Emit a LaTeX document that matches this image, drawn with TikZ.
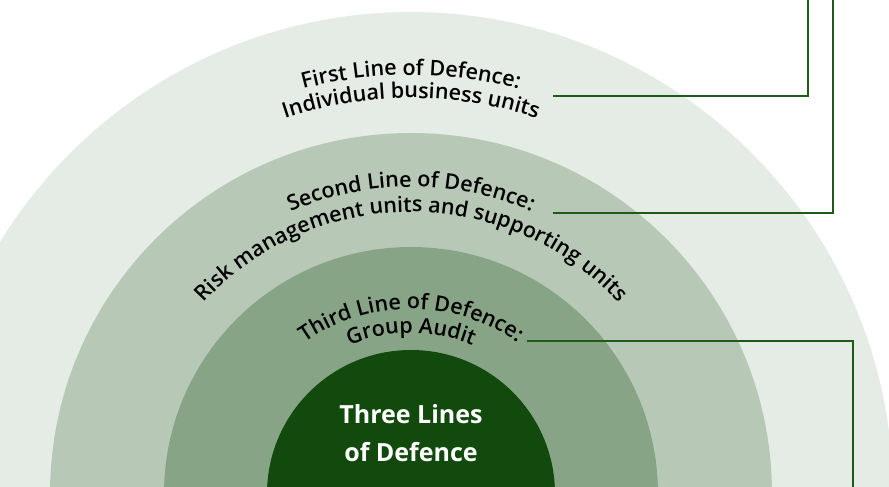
\documentclass[tikz,border=0pt]{standalone}
\usepackage{fontspec}
\setmainfont{Open Sans}
\newfontfamily\arcfont{Open Sans Semibold}
\usetikzlibrary{decorations.text}

\definecolor{ringOuter}{HTML}{E5ECE6}
\definecolor{ringSecond}{HTML}{B7C9B6}
\definecolor{ringThird}{HTML}{87A586}
\definecolor{ringCore}{HTML}{124A0E}
\definecolor{leaderGreen}{HTML}{1E5B1B}

\begin{document}
\begin{tikzpicture}[
    x=1pt, y=1pt,
    arclabel/.style={decorate, decoration={text along path, text align=center,
        text={|\arcfont\fontsize{21.5}{24}\selectfont|#1}}},
    leader/.style={draw=leaderGreen, line width=1.4pt}
]
    \useasboundingbox (0,0) rectangle (889,487);
    \clip (0,0) rectangle (889,487);
    \coordinate (c) at (411,-7);

    % Rings
    \fill[ringOuter]  (c) circle (482);
    \fill[ringSecond] (c) circle (361);
    \fill[ringThird]  (c) circle (247);
    \fill[ringCore]   (c) circle (144);

    % Labels along the rings
    \path[arclabel={First Line of Defence:}] ([shift={(180:419)}]c) arc[start angle=180, end angle=0, radius=419];
    \path[arclabel={Individual business units}] ([shift={(180:396)}]c) arc[start angle=180, end angle=0, radius=396];
    \path[arclabel={Second Line of Defence:}] ([shift={(180:307)}]c) arc[start angle=180, end angle=0, radius=307];
    \path[arclabel={Risk management units and supporting units}] ([shift={(180:282)}]c) arc[start angle=180, end angle=0, radius=282];
    \path[arclabel={Third Line of Defence:}] ([shift={(180:185)}]c) arc[start angle=180, end angle=0, radius=185];
    \path[arclabel={Group Audit}] ([shift={(180:161)}]c) arc[start angle=180, end angle=0, radius=161];

    \node[align=center, text=white, font=\bfseries\fontsize{25}{38}\selectfont] (core) at (411,54) {Three Lines\\of Defence};

    % Leaders
    \coordinate (first) at (553,391);
    \coordinate (firstEnd) at (808,487);
    \coordinate (second) at (553,274);
    \coordinate (secondEnd) at (833,487);
    \coordinate (third) at (527,146);
    \coordinate (thirdEnd) at (853,0);
    \draw[leader] (first) -| (firstEnd);
    \draw[leader] (second) -| (secondEnd);
    \draw[leader] (third) -| (thirdEnd);
\end{tikzpicture}
\end{document}
